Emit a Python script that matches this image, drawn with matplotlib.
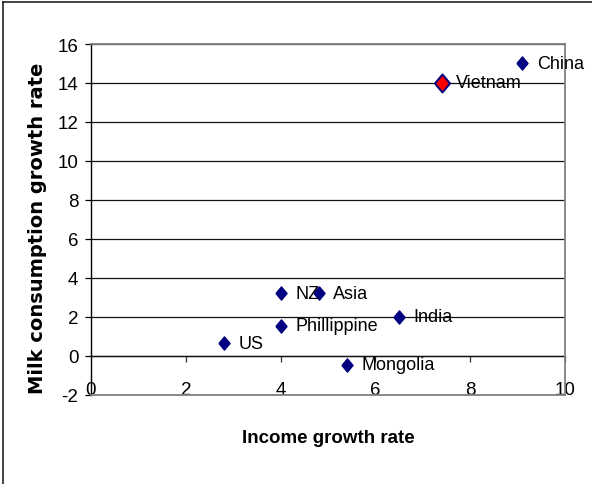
import matplotlib.pyplot as plt
from matplotlib.lines import Line2D

# income growth vs milk consumption growth, by country
countries = ['China', 'Vietnam', 'US', 'NZ', 'Phillippine', 'Asia', 'India', 'Mongolia']
income_growth = [9.1, 7.4, 2.8, 4.0, 4.0, 4.8, 6.5, 5.4]
milk_growth = [15.0, 14.0, 0.65, 3.2, 1.55, 3.2, 2.0, -0.45]
highlight = 'Vietnam'

plt.rcParams['axes.unicode_minus'] = False

W, H = 592, 485
fig = plt.figure(figsize=(W / 100, H / 100), dpi=100)
ax = fig.add_axes([91 / W, 1 - 395.7 / H, (565 - 91) / W, (395.7 - 45) / H])

font = 'Liberation Sans'
diamond = [(-0.42, 0), (0, 0.5), (0.42, 0), (0, -0.5), (-0.42, 0)]

for name, x, y in zip(countries, income_growth, milk_growth):
    if name == highlight:
        ax.plot(x, y, marker=diamond, ms=13, mfc='#ff0000', mec='#000080',
                mew=1.4, ls='none', zorder=4)
    else:
        ax.plot(x, y, marker=diamond, ms=9.5, mfc='#000080', mec='#000080',
                ls='none', zorder=4)
    ax.annotate(name, (x, y), xytext=(10.5, 0), textcoords='offset points',
                va='center', ha='left', fontsize=13, family=font, zorder=5,
                annotation_clip=False)

ax.set_xlim(0, 10)
ax.set_ylim(-2, 16)
ax.set_xticks(range(0, 11, 2))
ax.set_yticks(range(-2, 17, 2))
ax.yaxis.grid(True, color='#111111', lw=0.9)
ax.set_axisbelow(True)

for side in ['top', 'right', 'bottom']:
    ax.spines[side].set_color('#808080')
    ax.spines[side].set_linewidth(1.3)
ax.spines['left'].set_color('black')
ax.spines['left'].set_linewidth(1.0)

ax.tick_params(axis='y', direction='out', length=4, width=0.9, pad=5,
               labelsize=13.5, color='black')
ax.tick_params(axis='x', length=0, pad=-10, labelsize=13.5)
for lbl in ax.get_xticklabels() + ax.get_yticklabels():
    lbl.set_family(font)

# horizontal axis crossing at y = 0 with downward ticks
sec = ax.secondary_xaxis(2 / 18)
sec.set_xticks(range(2, 11, 2))
sec.tick_params(direction='out', length=4.5, width=0.9, labelbottom=False,
                color='#333333')
sec.spines['bottom'].set_color('#444444')
sec.spines['bottom'].set_linewidth(1.0)

fig.text(328 / W, 1 - 439 / H, 'Income growth rate', ha='center', va='center',
         fontsize=13.5, fontweight='bold', family=font)
fig.text(38 / W, 1 - 228 / H, 'Milk consumption growth rate', ha='center',
         va='center', rotation=90, fontsize=14, fontweight='bold',
         family='DejaVu Sans')

# chart frame (left and top edges)
fig.add_artist(Line2D([2.5 / W, 2.5 / W], [0, 1 - 2.5 / H], color='#222222', lw=1.2))
fig.add_artist(Line2D([2.5 / W, 1], [1 - 2.5 / H, 1 - 2.5 / H], color='#222222', lw=1.2))

fig.savefig('out.png', dpi=100)
